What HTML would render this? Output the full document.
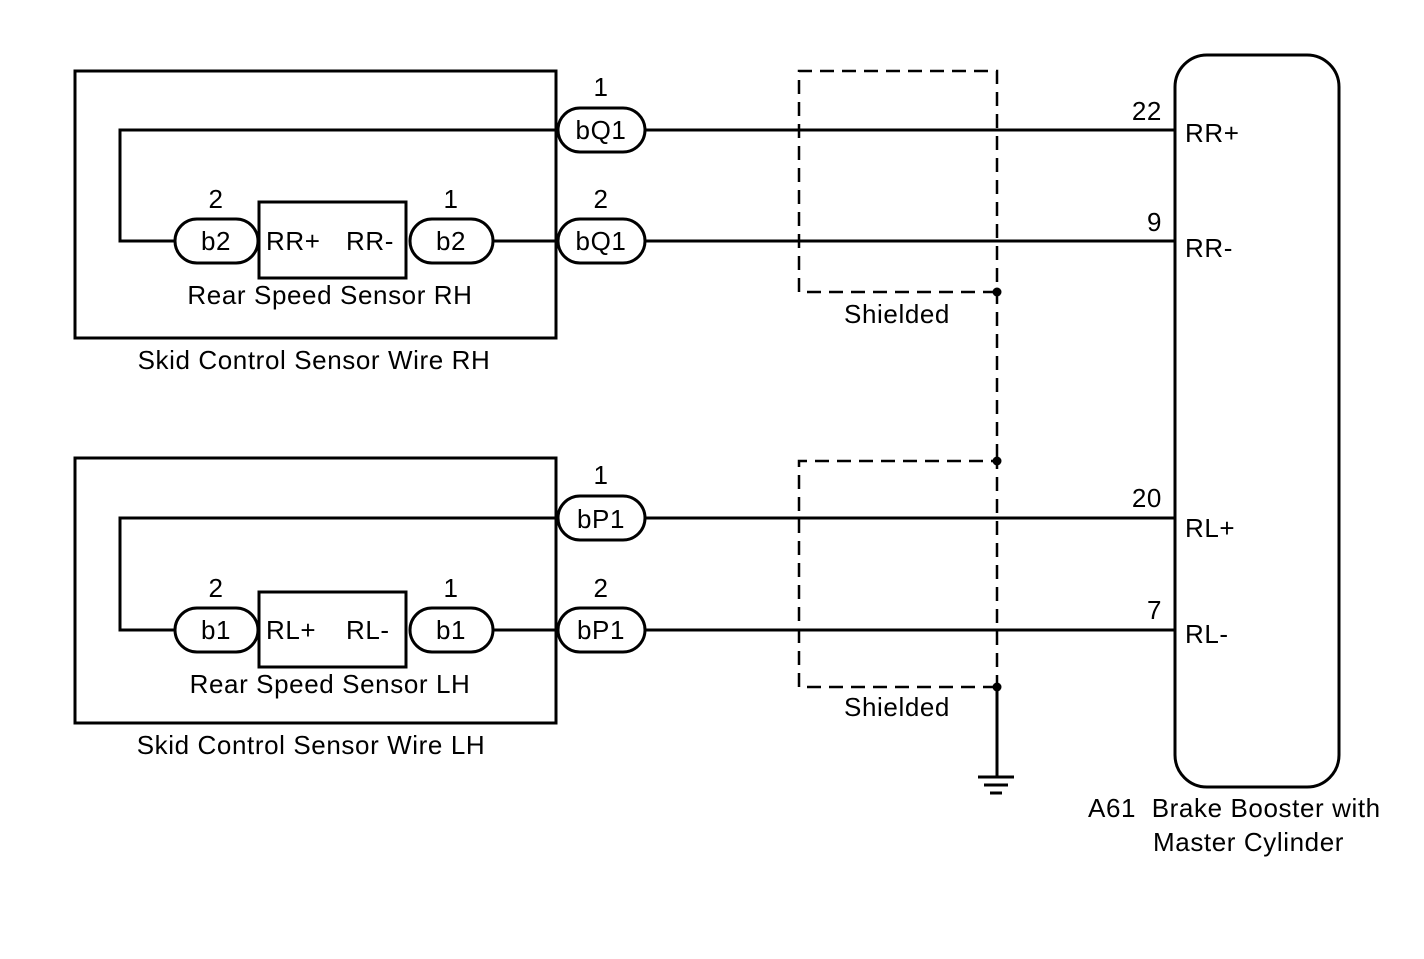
<!DOCTYPE html>
<html><head><style>html,body{margin:0;padding:0;background:#fff}svg{display:block}text{font-family:"Liberation Sans",Arial,sans-serif;font-size:26px;letter-spacing:0.6px;fill:#000;white-space:pre}</style></head>
<body>
<svg width="1424" height="959" viewBox="0 0 1424 959" xmlns="http://www.w3.org/2000/svg">
<g fill="none" stroke="#000" stroke-width="3">
<rect x="75" y="71" width="481" height="267"/>
<path d="M558 130 H120 V241 H175"/>
<path d="M493 241 H558"/>
<path d="M645 130 H1175"/>
<path d="M645 241 H1175"/>
<rect x="175" y="219" width="83" height="44" rx="22"/>
<rect x="259" y="202" width="147" height="76"/>
<rect x="410" y="219" width="83" height="44" rx="22"/>
<rect x="558" y="108" width="87" height="44" rx="22"/>
<rect x="558" y="219" width="87" height="44" rx="22"/>
<rect x="75" y="458" width="481" height="265"/>
<path d="M558 518 H120 V630 H175"/>
<path d="M493 630 H558"/>
<path d="M645 518 H1175"/>
<path d="M645 630 H1175"/>
<rect x="175" y="608" width="83" height="44" rx="22"/>
<rect x="259" y="592" width="147" height="75"/>
<rect x="410" y="608" width="83" height="44" rx="22"/>
<rect x="558" y="496" width="87" height="44" rx="22"/>
<rect x="558" y="608" width="87" height="44" rx="22"/>
<g stroke-dasharray="14,8" stroke-width="2.5">
<path d="M997 292 H799 V71 H997 V292 V461"/>
<path d="M997 687 H799 V461 H997 V687"/>
</g>
<path d="M997 687 V777"/>
<path d="M978 777 H1014 M984 785 H1008 M990 793 H1002"/>
<rect x="1175" y="55" width="164" height="732" rx="32"/>
</g>
<g fill="#000">
<circle cx="997" cy="292" r="4.5"/><circle cx="997" cy="461" r="4.5"/><circle cx="997" cy="687" r="4.5"/>
</g>
<text x="601" y="96" text-anchor="middle">1</text>
<text x="601" y="139" text-anchor="middle">bQ1</text>
<text x="601" y="208" text-anchor="middle">2</text>
<text x="601" y="250" text-anchor="middle">bQ1</text>
<text x="216" y="208" text-anchor="middle">2</text>
<text x="216" y="250" text-anchor="middle">b2</text>
<text x="451" y="208" text-anchor="middle">1</text>
<text x="451" y="250" text-anchor="middle">b2</text>
<text x="266" y="250">RR+</text>
<text x="346" y="250">RR-</text>
<text x="330" y="304" text-anchor="middle">Rear Speed Sensor RH</text>
<text x="314" y="369" text-anchor="middle">Skid Control Sensor Wire RH</text>
<text x="601" y="484" text-anchor="middle">1</text>
<text x="601" y="528" text-anchor="middle">bP1</text>
<text x="601" y="597" text-anchor="middle">2</text>
<text x="601" y="639" text-anchor="middle">bP1</text>
<text x="216" y="597" text-anchor="middle">2</text>
<text x="216" y="639" text-anchor="middle">b1</text>
<text x="451" y="597" text-anchor="middle">1</text>
<text x="451" y="639" text-anchor="middle">b1</text>
<text x="266" y="639">RL+</text>
<text x="346" y="639">RL-</text>
<text x="330" y="693" text-anchor="middle">Rear Speed Sensor LH</text>
<text x="311" y="754" text-anchor="middle">Skid Control Sensor Wire LH</text>
<text x="897" y="323" text-anchor="middle">Shielded</text>
<text x="897" y="716" text-anchor="middle">Shielded</text>
<text x="1162" y="120" text-anchor="end">22</text>
<text x="1162" y="231" text-anchor="end">9</text>
<text x="1162" y="507" text-anchor="end">20</text>
<text x="1162" y="619" text-anchor="end">7</text>
<text x="1185" y="142">RR+</text>
<text x="1185" y="257">RR-</text>
<text x="1185" y="537">RL+</text>
<text x="1185" y="643">RL-</text>
<text x="1088" y="817" xml:space="preserve">A61  Brake Booster with</text>
<text x="1153" y="851">Master Cylinder</text>
</svg>
</body></html>
